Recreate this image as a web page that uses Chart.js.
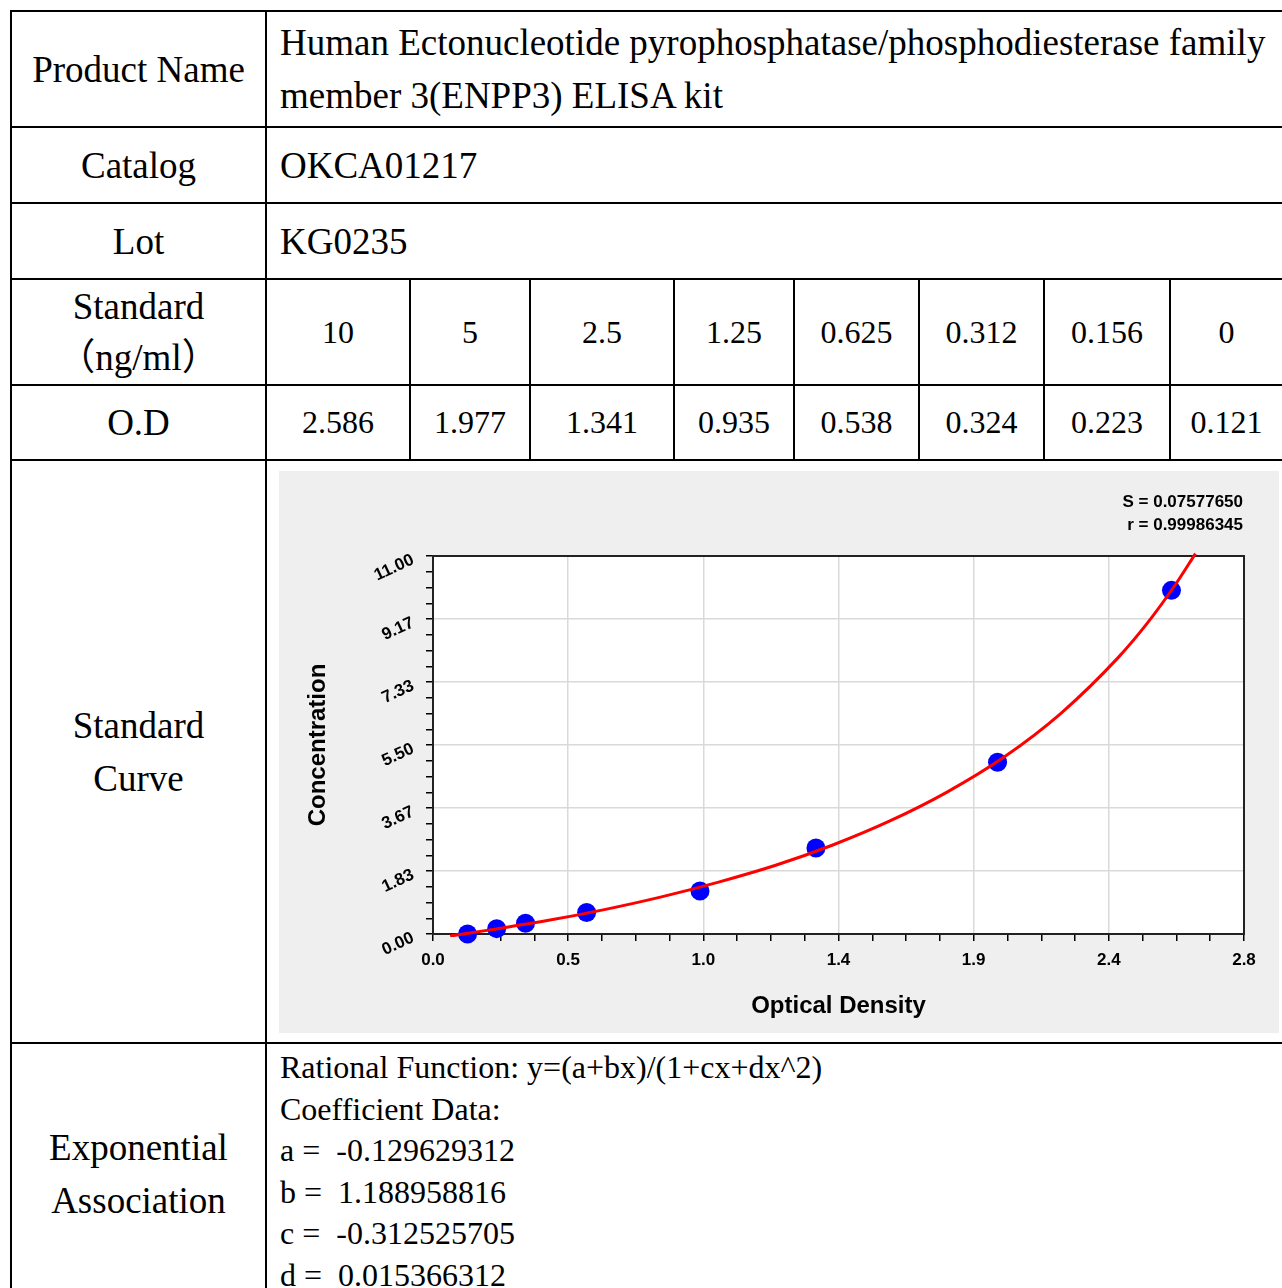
<!DOCTYPE html>
<html>
<head>
<meta charset="utf-8">
<script src="https://cdn.jsdelivr.net/npm/chart.js@4.4.0/dist/chart.umd.min.js"></script>
<style>
  body { margin: 0; background: #fff; overflow: hidden; width: 1282px; height: 1288px; }
  table {
    position: absolute; left: 10px; top: 10px;
    border-collapse: collapse; table-layout: fixed; width: 1272px;
    font-family: "Liberation Serif", "Times New Roman", "Noto Sans CJK SC", serif;
    color: #000;
  }
  td { border: 2px solid #000; padding: 0; text-align: center; vertical-align: middle; }
  .lab { font-size: 37px; line-height: 53px; }
  .lab.tight { line-height: 51px; }
  .val { text-align: left; padding-left: 13px; font-size: 37px; line-height: 53px; }
  .num { font-size: 32px; }
  .coef { text-align: left; padding-left: 13px; padding-top: 3px; font-size: 32px; line-height: 41.5px; vertical-align: top; white-space: pre; }
  #chartBox { width: 1000px; height: 562px; margin-left: 12px; }
</style>
</head>
<body>
<table>
  <colgroup>
    <col style="width:255px"><col style="width:144px"><col style="width:120px"><col style="width:144px">
    <col style="width:120px"><col style="width:125px"><col style="width:125px"><col style="width:126px"><col style="width:113px">
  </colgroup>
  <tr style="height:116px">
    <td class="lab">Product Name</td>
    <td class="val" colspan="8">Human Ectonucleotide pyrophosphatase/phosphodiesterase family member 3(ENPP3) ELISA kit</td>
  </tr>
  <tr style="height:76px">
    <td class="lab">Catalog</td>
    <td class="val" colspan="8">OKCA01217</td>
  </tr>
  <tr style="height:76px">
    <td class="lab">Lot</td>
    <td class="val" colspan="8">KG0235</td>
  </tr>
  <tr style="height:106px" id="stdRow">
    <td class="lab tight">Standard<br>（ng/ml）</td>
  </tr>
  <tr style="height:75px" id="odRow">
    <td class="lab">O.D</td>
  </tr>
  <tr style="height:583px">
    <td class="lab">Standard<br>Curve</td>
    <td colspan="8" style="text-align:left"><div id="chartBox"><canvas id="curve" width="1000" height="562"></canvas></div></td>
  </tr>
  <tr style="height:262px">
    <td class="lab">Exponential<br>Association</td>
    <td class="coef" colspan="8">Rational Function: y=(a+bx)/(1+cx+dx^2)
Coefficient Data:
a =  -0.129629312
b =  1.188958816
c =  -0.312525705
d =  0.015366312</td>
  </tr>
</table>

<script>
// standards and measured optical density
const standardLabels = ['10', '5', '2.5', '1.25', '0.625', '0.312', '0.156', '0'];
const odLabels = ['2.586', '1.977', '1.341', '0.935', '0.538', '0.324', '0.223', '0.121'];
const odValues = [2.586, 1.977, 1.341, 0.935, 0.538, 0.324, 0.223, 0.121];
const concValues = [10, 5, 2.5, 1.25, 0.625, 0.312, 0.156, 0];

// fitted curve
const curveOD = [0.06, 0.2, 0.4, 0.6, 0.8, 1.0, 1.2, 1.4, 1.6, 1.8, 2.0, 2.2, 2.4, 2.5, 2.6, 2.67];
const curveConc = [-0.06, 0.12, 0.39, 0.71, 1.08, 1.51, 2.00, 2.59, 3.29, 4.13, 5.15, 6.43, 8.05, 9.03, 10.17, 11.07];

const xTickLabels = ['0.0', '0.5', '1.0', '1.4', '1.9', '2.4', '2.8'];
const yTickLabels = ['0.00', '1.83', '3.67', '5.50', '7.33', '9.17', '11.00'];
const xMax = 2.84;
const yMax = 11;

// fill the two number rows of the table
standardLabels.forEach(s => {
  const td = document.createElement('td');
  td.className = 'num';
  td.textContent = s;
  document.getElementById('stdRow').appendChild(td);
});
odLabels.forEach(s => {
  const td = document.createElement('td');
  td.className = 'num';
  td.textContent = s;
  document.getElementById('odRow').appendChild(td);
});

const tickFont = { family: 'Liberation Sans', size: 17, weight: 'bold' };
const titleFont = { family: 'Liberation Sans', size: 24, weight: 'bold' };

// 6 major steps, each split in 4 for the small ticks
function quarterTicks(max) {
  return scale => {
    scale.ticks = [];
    for (let i = 0; i <= 24; i++) scale.ticks.push({ value: max * i / 24 });
  };
}

const frame = {
  id: 'frame',
  beforeDraw(chart) {
    const { ctx, chartArea: a, width, height } = chart;
    ctx.save();
    ctx.fillStyle = '#efefef';
    ctx.fillRect(0, 0, width, height);
    ctx.fillStyle = '#fff';
    ctx.fillRect(a.left, a.top, a.right - a.left, a.bottom - a.top);
    ctx.restore();
  },
  beforeDatasetsDraw(chart) {
    const { ctx, chartArea: a } = chart;
    ctx.save();
    ctx.strokeStyle = '#222';
    ctx.lineWidth = 2;
    ctx.strokeRect(a.left, a.top, a.right - a.left, a.bottom - a.top);
    ctx.restore();
  },
  afterDraw(chart) {
    const { ctx, chartArea: a } = chart;
    ctx.save();
    ctx.font = 'bold 17px "Liberation Sans"';
    ctx.fillStyle = '#000';
    ctx.textAlign = 'right';
    ctx.textBaseline = 'middle';
    ctx.fillText('S = 0.07577650', a.right - 1, 31);
    ctx.fillText('r = 0.99986345', a.right - 1, 54);
    ctx.restore();
  }
};

new Chart(document.getElementById('curve'), {
  type: 'scatter',
  data: {
    datasets: [
      {
        data: curveOD.map((x, i) => ({ x: x, y: curveConc[i] })),
        showLine: true,
        borderColor: '#ff0000',
        borderWidth: 3,
        pointRadius: 0,
        cubicInterpolationMode: 'monotone',
        clip: { left: 10, top: 10, right: 0, bottom: 3 }
      },
      {
        data: odValues.map((x, i) => ({ x: x, y: concValues[i] })),
        backgroundColor: '#0000ff',
        borderWidth: 0,
        pointRadius: 9.5,
        pointHoverRadius: 9.5,
        clip: false
      }
    ]
  },
  options: {
    responsive: false,
    animation: false,
    events: [],
    layout: { padding: { top: 85, right: 35, left: 0, bottom: 0 } },
    plugins: { legend: { display: false }, tooltip: { enabled: false } },
    scales: {
      x: {
        type: 'linear', min: 0, max: xMax,
        afterBuildTicks: quarterTicks(xMax),
        afterFit: s => { s.height = 99; },
        ticks: {
          autoSkip: false, minRotation: 0, maxRotation: 0, padding: 9,
          font: tickFont, color: '#000',
          callback: (v, i) => i % 4 === 0 ? xTickLabels[i / 4] : ''
        },
        grid: {
          color: c => c.index % 4 === 0 ? '#d9d9d9' : 'rgba(0,0,0,0)',
          lineWidth: 1.5, tickColor: '#000', tickLength: 7, tickWidth: 1.5
        },
        border: { color: '#000', width: 2 },
        title: {
          display: true, text: 'Optical Density', color: '#000', font: titleFont,
          padding: { top: 0, bottom: 12 }
        }
      },
      y: {
        type: 'linear', min: 0, max: yMax,
        afterBuildTicks: quarterTicks(yMax),
        afterFit: s => { s.width = 154; },
        ticks: {
          autoSkip: false, minRotation: 25, maxRotation: 25, padding: 13, labelOffset: 3,
          font: tickFont, color: '#000',
          callback: (v, i) => i % 4 === 0 ? yTickLabels[i / 4] : ''
        },
        grid: {
          color: c => c.index % 4 === 0 ? '#d9d9d9' : 'rgba(0,0,0,0)',
          lineWidth: 1.5, tickColor: '#000', tickLength: 7, tickWidth: 1.5
        },
        border: { color: '#000', width: 2 },
        title: {
          display: true, text: 'Concentration', color: '#000', font: titleFont,
          padding: { top: 25, bottom: 0 }
        }
      }
    }
  },
  plugins: [frame]
});
</script>
</body>
</html>
